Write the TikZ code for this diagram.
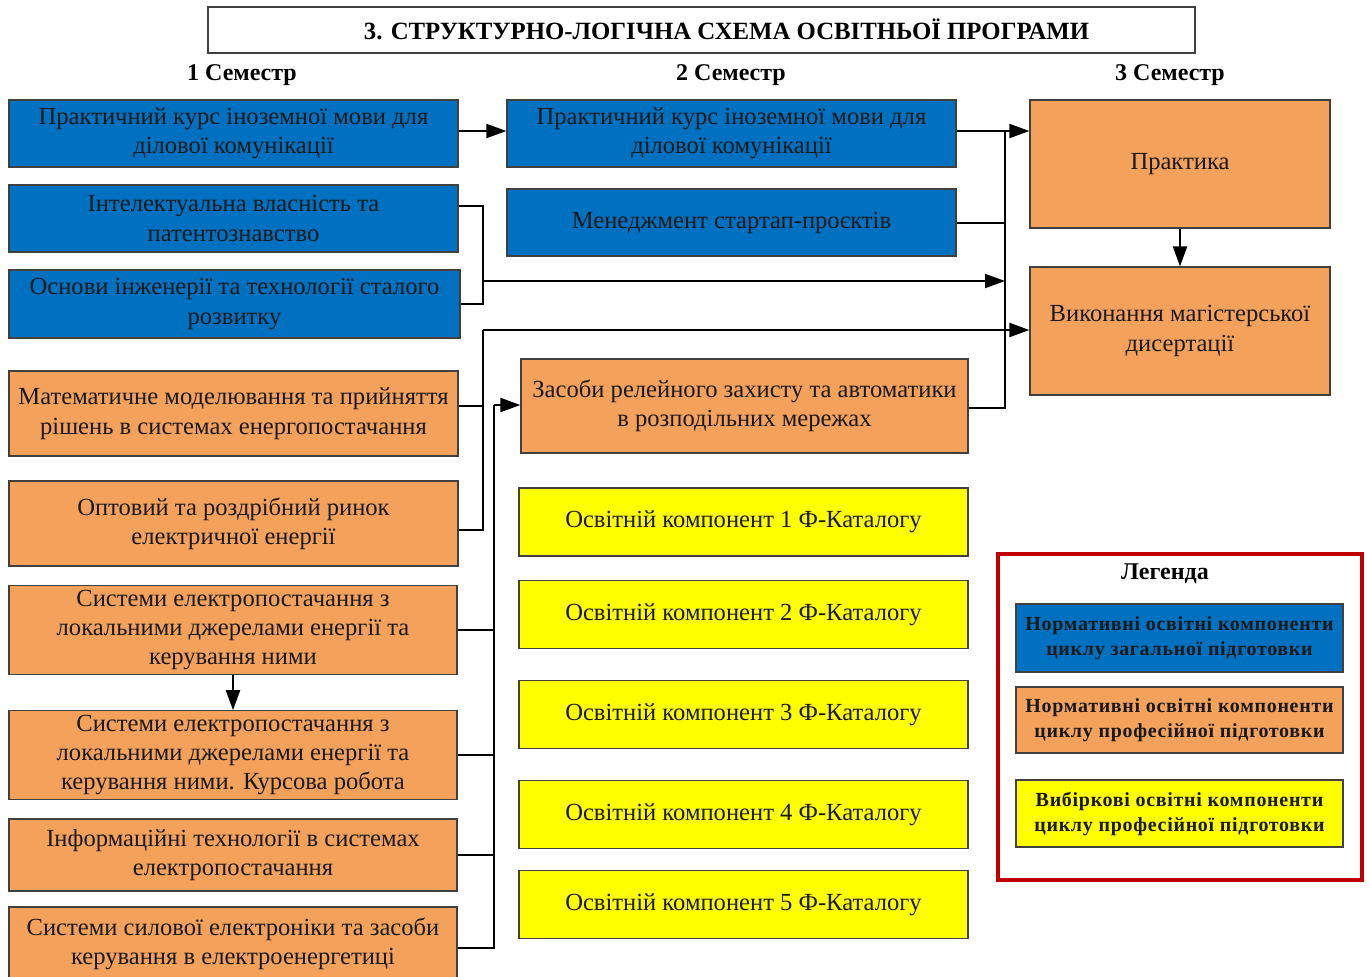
\documentclass[tikz,border=0pt]{standalone}
\usepackage{fontspec}
\setmainfont{Liberation Serif}
\newfontfamily\legfont[LetterSpace=3.5]{Liberation Serif}
\usetikzlibrary{arrows.meta,positioning,calc}
\definecolor{slblue}{RGB}{0,112,192}
\definecolor{slorange}{RGB}{244,161,92}
\definecolor{slyellow}{RGB}{255,255,0}
\definecolor{slred}{RGB}{192,0,0}

\begin{document}
\begin{tikzpicture}[x=0.5pt, y=-0.5pt,
  comp/.style={draw=black!75, line width=0.6pt, align=center, inner sep=2pt,
               font=\fontsize{12.3}{14.7}\selectfont, text=black!90},
  gen/.style={comp, fill=slblue},
  prof/.style={comp, fill=slorange},
  elect/.style={comp, fill=slyellow},
  leg/.style={comp, minimum width=163.5pt, font=\legfont\fontsize{10}{12.5}\selectfont\bfseries},
  sem/.style={font=\fontsize{12}{14}\selectfont\bfseries},
  arr/.style={-{Triangle[length=10pt,width=7pt]}, line width=1pt},
  lnk/.style={line width=1pt}
]
\useasboundingbox (0,0) rectangle (1370,976);

\node[draw=black!75, line width=0.6pt, minimum width=493.5pt, minimum height=23pt] (title) at (701.5,30) {};
\node[font=\fontsize{12.4}{14}\selectfont\bfseries] (titletext) at (726.5,29)
      {3. СТРУКТУРНО-ЛОГІЧНА СХЕМА ОСВІТНЬОЇ ПРОГРАМИ};
\node[sem] (sem1) at (242,75) {1 Семестр};
\node[sem] (sem2) at (731,75) {2 Семестр};
\node[sem] (sem3) at (1170,75) {3 Семестр};

\node[gen, minimum width=224.5pt, minimum height=33.5pt] (pk1) at (233.5,133.5)
  {Практичний курс іноземної мови для\\ділової комунікації};
\node[gen, minimum width=224.5pt, minimum height=33.5pt] (iv) at (233.5,218.5)
  {Інтелектуальна власність та\\патентознавство};
\node[gen, minimum width=225.5pt, minimum height=34pt] (osn) at (234.5,304)
  {Основи інженерії та технології сталого\\розвитку};
\node[prof, minimum width=224.5pt, minimum height=42.5pt] (mat) at (233.5,413.5)
  {Математичне моделювання та прийняття\\рішень в системах енергопостачання};
\node[prof, minimum width=224.5pt, minimum height=42.5pt] (opt) at (233.5,523.5)
  {Оптовий та роздрібний ринок\\електричної енергії};
\node[prof, minimum width=224pt, minimum height=42pt] (sys1) at (233,630)
  {Системи електропостачання з\\локальними джерелами енергії та\\керування ними};
\node[prof, minimum width=224pt, minimum height=43pt] (sys2) at (233,755)
  {Системи електропостачання з\\локальними джерелами енергії та\\керування ними. Курсова робота};
\node[prof, minimum width=224pt, minimum height=36pt] (inf) at (233,855)
  {Інформаційні технології в системах\\електропостачання};
\node[prof, minimum width=224pt, minimum height=37pt] (syl) at (233,944)
  {Системи силової електроніки та засоби\\керування в електроенергетиці};

\node[gen, minimum width=224.5pt, minimum height=33.5pt] (pk2) at (731.5,133.5)
  {Практичний курс іноземної мови для\\ділової комунікації};
\node[gen, minimum width=224.5pt, minimum height=33.5pt] (men) at (731.5,222.5)
  {Менеджмент стартап-проєктів};
\node[prof, minimum width=223.5pt, minimum height=47pt] (zas) at (744.5,406)
  {Засоби релейного захисту та автоматики\\в розподільних мережах};
\foreach \i/\y in {1/522,2/614.5,3/714.5,4/814.5,5/904.5}
  \node[elect, minimum width=224.5pt, minimum height=34pt] (fk\i) at (743.5,\y)
    {Освітній компонент \i\ Ф-Каталогу};

\node[prof, minimum width=150pt, minimum height=64pt] (prakt) at (1180,164) {Практика};
\node[prof, minimum width=150pt, minimum height=64pt] (vyk) at (1180,331)
  {Виконання магістерської\\дисертації};

\node[draw=slred, line width=2pt, minimum width=182pt, minimum height=163pt] (legbox) at (1180,717) {};
\node[sem] (legtitle) at (1165,574) {Легенда};
\node[leg, fill=slblue, minimum height=34pt] (leg1) at (1179.5,638)
  {Нормативні освітні компоненти\\циклу загальної підготовки};
\node[leg, fill=slorange, minimum height=33pt] (leg2) at (1179.5,720)
  {Нормативні освітні компоненти\\циклу професійної підготовки};
\node[leg, fill=slyellow, minimum height=33.5pt] (leg3) at (1179.5,813.5)
  {Вибіркові освітні компоненти\\циклу професійної підготовки};

\coordinate (rtop) at (1005,131);
\coordinate (la) at (483,206);
\coordinate (lb) at (483,281);
\coordinate (lc) at (483,330);
\coordinate (ld) at (494,405);

\draw[arr] ($(pk1.east)+(0,-2.5)$) -- ($(pk2.west)+(0,-2.5)$);
\draw[arr] ($(pk2.east)+(0,-2.5)$) -- (prakt.west |- rtop);
\draw[lnk] (rtop) -- ($(rtop |- zas.east)+(0,2)$) -- ($(zas.east)+(0,2)$);
\draw[lnk] (men.east) -- (rtop |- men.east);

\draw[lnk] ($(iv.east)+(0,-12.5)$) -- (la) -- (la |- osn.east) -- (osn.east);
\draw[arr] (lb) -- (rtop |- lb);

\draw[arr] (lc) -- (vyk.west |- lc);
\draw[lnk] (lc) -- ($(lc |- opt.east)+(0,6.5)$) -- ($(opt.east)+(0,6.5)$);
\draw[lnk] ($(mat.east)+(0,-7.5)$) -- ($(lc |- mat.east)+(0,-7.5)$);

\draw[arr] (ld) -- (zas.west |- ld);
\draw[lnk] (ld) -- ($(ld |- syl.east)+(0,4)$) -- ($(syl.east)+(0,4)$);
\foreach \n in {sys1,sys2,inf}
  \draw[lnk] (\n.east) -- (ld |- \n.east);

\draw[arr] (prakt) -- (vyk);
\draw[arr] (sys1) -- (sys2);
\end{tikzpicture}
\end{document}
